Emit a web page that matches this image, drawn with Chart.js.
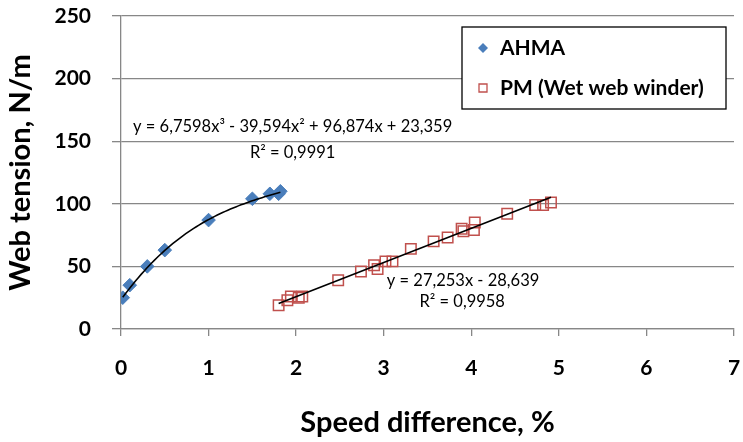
<!DOCTYPE html>
<html>
<head>
<meta charset="utf-8">
<script src="https://cdn.jsdelivr.net/npm/chart.js@4/dist/chart.umd.min.js"></script>
<style>
  html, body { margin: 0; padding: 0; background: #fff; }
</style>
</head>
<body>
<canvas id="grafico" width="743" height="442"></canvas>
<script>
// Medições: AHMA e PM (enroladeira de folha úmida)
const ahmaX = [0.02, 0.1, 0.3, 0.5, 1.0, 1.5, 1.7, 1.8, 1.82];
const ahmaY = [25, 35, 50, 63, 87, 104, 108, 108, 110];

const pmX = [1.8, 1.9, 1.94, 2.03, 2.07, 2.48, 2.74, 2.89, 2.93, 3.02, 3.1,
             3.31, 3.57, 3.73, 3.89, 3.91, 4.03, 4.04, 4.41, 4.73, 4.82, 4.91];
const pmY = [19, 23, 26, 25, 26, 39, 46, 51, 48, 54, 54,
             64, 70, 73, 80, 78, 79, 85, 92, 99, 99, 101];

// Coeficientes das linhas de tendência (maior grau primeiro)
const ahmaCoef = [6.7598, -39.594, 96.874, 23.359];
const pmCoef = [27.253, -28.639];

const eqAhma = ['y = 6,7598x³ - 39,594x² + 96,874x + 23,359', 'R² = 0,9991'];
const eqPm = ['y = 27,253x - 28,639', 'R² = 0,9958'];

const xTicks = [0, 1, 2, 3, 4, 5, 6, 7];
const yTicks = [0, 50, 100, 150, 200, 250];

const FONTE = 'Lato, "Open Sans", sans-serif';

function polinomio(coef, x) {
  return coef.reduce((acc, c) => acc * x + c, 0);
}

function tendencia(coef, xs, passos) {
  const min = Math.min(...xs), max = Math.max(...xs);
  const pts = [];
  for (let i = 0; i <= passos; i++) {
    const x = min + (max - min) * i / passos;
    pts.push({ x: x, y: polinomio(coef, x) });
  }
  return pts;
}

function pontos(xs, ys) {
  return xs.map((x, i) => ({ x: x, y: ys[i] }));
}

// Legenda com moldura e as equações das tendências
const anotacoes = {
  id: 'anotacoes',
  afterDatasetsDraw(chart, args, opts) {
    const ctx = chart.ctx;
    const sx = chart.scales.x, sy = chart.scales.y;
    ctx.save();

    // equações
    ctx.fillStyle = '#000';
    ctx.font = '16.5px ' + FONTE;
    ctx.textAlign = 'center';
    ctx.textBaseline = 'middle';
    opts.equacoes.forEach(eq => {
      ctx.fillText(eq.texto, sx.getPixelForValue(eq.x), sy.getPixelForValue(eq.y));
    });

    // legenda
    const b = opts.caixa;
    ctx.fillStyle = '#fff';
    ctx.fillRect(b.x, b.y, b.w, b.h);
    ctx.strokeStyle = '#000';
    ctx.lineWidth = 1.3;
    ctx.strokeRect(b.x, b.y, b.w, b.h);

    const series = chart.data.datasets.filter(d => !d.tendencia);
    ctx.font = 'bold 21px ' + FONTE;
    ctx.textAlign = 'left';
    series.forEach((d, i) => {
      const y = b.y + 21 + i * 40;
      const mx = b.x + 21;
      ctx.beginPath();
      if (d.pointStyle === 'rectRot') {
        ctx.moveTo(mx, y - 5);
        ctx.lineTo(mx + 5, y);
        ctx.lineTo(mx, y + 5);
        ctx.lineTo(mx - 5, y);
        ctx.closePath();
        ctx.fillStyle = d.backgroundColor;
        ctx.fill();
      } else {
        ctx.rect(mx - 4, y - 4, 8, 8);
        ctx.strokeStyle = d.borderColor;
        ctx.lineWidth = 1.3;
        ctx.stroke();
      }
      ctx.fillStyle = '#000';
      ctx.fillText(d.label, b.x + 38, y);
    });
    ctx.restore();
  }
};

new Chart(document.getElementById('grafico'), {
  type: 'scatter',
  data: {
    datasets: [
      {
        label: 'AHMA',
        data: pontos(ahmaX, ahmaY),
        pointStyle: 'rectRot',
        pointRadius: 6.8,
        backgroundColor: '#4A7EBB',
        borderColor: '#4A7EBB',
        borderWidth: 1,
        order: 1
      },
      {
        label: 'PM (Wet web winder)',
        data: pontos(pmX, pmY),
        pointStyle: 'rect',
        pointRadius: 7.4,
        backgroundColor: 'rgba(0,0,0,0)',
        borderColor: '#C0504D',
        borderWidth: 1.5,
        order: 1
      },
      {
        label: 'Tendência AHMA',
        tendencia: true,
        type: 'line',
        data: tendencia(ahmaCoef, ahmaX, 60),
        borderColor: '#000',
        borderWidth: 1.6,
        pointRadius: 0,
        tension: 0,
        order: 0
      },
      {
        label: 'Tendência PM',
        tendencia: true,
        type: 'line',
        data: tendencia(pmCoef, pmX, 1),
        borderColor: '#000',
        borderWidth: 1.6,
        pointRadius: 0,
        order: 0
      }
    ]
  },
  options: {
    responsive: false,
    animation: false,
    layout: {
      autoPadding: false,
      padding: { top: 16, right: 9, left: 0, bottom: 0 }
    },
    plugins: {
      legend: { display: false },
      tooltip: { enabled: false },
      anotacoes: {
        caixa: { x: 462, y: 27, w: 264, h: 82 },
        equacoes: [
          { texto: eqAhma[0], x: 1.96, y: 162 },
          { texto: eqAhma[1], x: 1.96, y: 141 },
          { texto: eqPm[0], x: 3.906, y: 39 },
          { texto: eqPm[1], x: 3.896, y: 22 }
        ]
      }
    },
    scales: {
      x: {
        type: 'linear',
        min: 0,
        max: 7,
        afterFit(scale) {
          scale.height = 113;
          scale.paddingLeft = 0;
          scale.paddingRight = 0;
        },
        afterBuildTicks(scale) { scale.ticks = xTicks.map(v => ({ value: v })); },
        grid: {
          drawOnChartArea: false,
          color: '#878787',
          lineWidth: 1.3,
          tickLength: 7
        },
        border: { color: '#878787', width: 1.3 },
        ticks: {
          color: '#000',
          padding: 20,
          font: { family: FONTE, size: 21, weight: 'bold' }
        },
        title: {
          display: true,
          text: 'Speed difference, %',
          color: '#000',
          padding: { top: 0, bottom: 2 },
          font: { family: FONTE, size: 29, weight: 'bold' }
        }
      },
      y: {
        min: 0,
        max: 250,
        afterFit(scale) {
          scale.width = 121;
          scale.paddingTop = 0;
          scale.paddingBottom = 0;
        },
        afterBuildTicks(scale) { scale.ticks = yTicks.map(v => ({ value: v })); },
        grid: {
          color: '#878787',
          lineWidth: 1.3,
          tickLength: 9
        },
        border: { color: '#878787', width: 1.3 },
        ticks: {
          color: '#000',
          padding: 21,
          font: { family: FONTE, size: 21, weight: 'bold' }
        },
        title: {
          display: true,
          text: 'Web tension, N/m',
          color: '#000',
          padding: { top: 3, bottom: 0 },
          font: { family: FONTE, size: 29, weight: 'bold' }
        }
      }
    }
  },
  plugins: [anotacoes]
});
</script>
</body>
</html>
